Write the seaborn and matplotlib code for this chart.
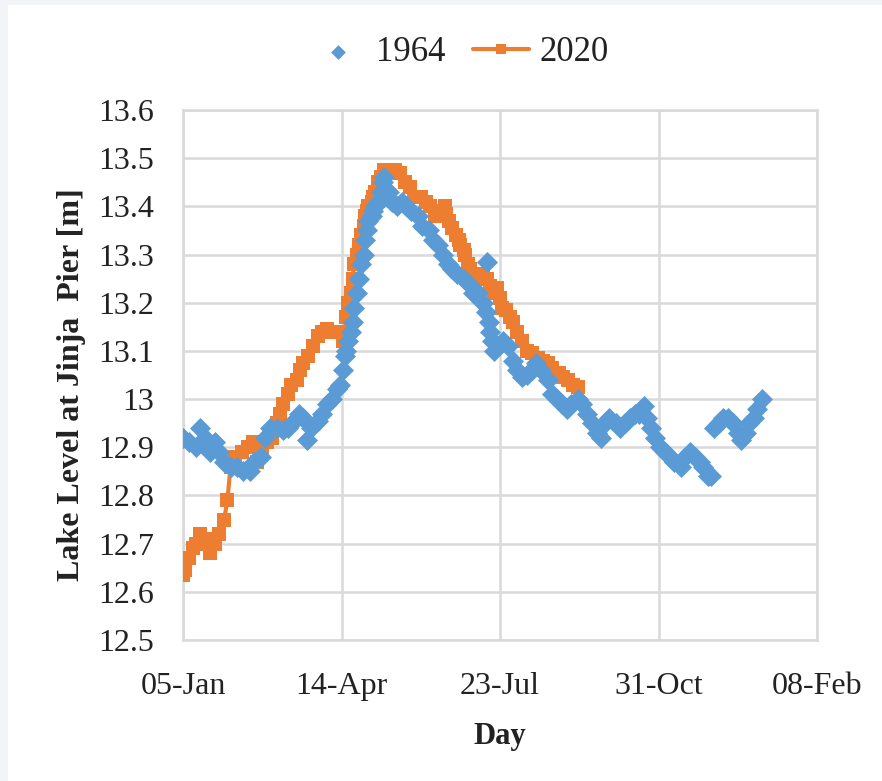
import matplotlib
matplotlib.use("Agg")
import matplotlib.pyplot as plt
import matplotlib.patches as mpatches
import seaborn as sns
import pandas as pd

# ---- data (day offset from 05-Jan) ----
days_1964 = [0, 4, 8, 11, 14, 17, 20, 23, 26, 30, 34, 38, 42, 45, 49, 52, 55, 59, 63, 66,
             69, 73, 76, 78, 81, 85, 88, 91, 94, 97, 99, 101, 102, 103, 104, 106, 107, 108,
             110, 111, 112, 114, 115, 116, 117, 119, 120, 121, 123, 125, 126, 127, 130, 132,
             135, 138, 141, 144, 148, 151, 155, 158, 161, 164, 167, 170, 173, 177, 180, 183,
             186, 189, 191, 192, 193, 194, 195, 196, 199, 202, 205, 208, 211, 214, 217, 220,
             223, 226, 230, 233, 236, 239, 242, 245, 249, 252, 255, 258, 261, 264, 266, 269,
             273, 276, 279, 282, 285, 288, 291, 293, 295, 298, 301, 304, 307, 310, 314, 317,
             320, 323, 326, 328, 331, 333, 335, 338, 341, 344, 347, 350, 352, 355, 357, 360,
             362, 365]
level_1964 = [12.92, 12.91, 12.90, 12.94, 12.92, 12.89, 12.91, 12.89, 12.87, 12.86, 12.86,
              12.85, 12.85, 12.87, 12.88, 12.92, 12.94, 12.94, 12.935, 12.94, 12.95, 12.97,
              12.96, 12.915, 12.94, 12.955, 12.97, 12.99, 13.00, 13.02, 13.03, 13.06, 13.09,
              13.10, 13.12, 13.14, 13.16, 13.19, 13.22, 13.25, 13.28, 13.30, 13.33, 13.35,
              13.37, 13.38, 13.39, 13.40, 13.41, 13.43, 13.45, 13.46, 13.43, 13.41, 13.40,
              13.41, 13.40, 13.39, 13.38, 13.36, 13.35, 13.33, 13.32, 13.30, 13.28, 13.27,
              13.26, 13.25, 13.24, 13.22, 13.22, 13.20, 13.18, 13.285, 13.16, 13.14, 13.12,
              13.10, 13.11, 13.12, 13.11, 13.08, 13.06, 13.045, 13.05, 13.06, 13.075, 13.06,
              13.04, 13.01, 13.00, 12.99, 12.98, 12.99, 13.00, 12.99, 12.97, 12.95, 12.93,
              12.92, 12.95, 12.96, 12.95, 12.94, 12.95, 12.96, 12.97, 12.97, 12.985, 12.96,
              12.94, 12.92, 12.90, 12.89, 12.88, 12.87, 12.86, 12.88, 12.89, 12.88, 12.87,
              12.86, 12.84, 12.84, 12.94, 12.95, 12.96, 12.96, 12.95, 12.93, 12.915, 12.93,
              12.95, 12.96, 12.98, 13.00]

days_2020 = [0, 1, 4, 6, 8, 11, 14, 17, 20, 23, 26, 28, 30, 33, 37, 41, 44, 47, 50, 53,
             56, 59, 61, 63, 66, 68, 72, 74, 76, 79, 82, 85, 88, 91, 95, 98, 101, 102, 103,
             104, 106, 107, 108, 110, 111, 112, 114, 115, 116, 117, 119, 120, 121, 123, 125,
             127, 131, 134, 137, 140, 143, 146, 150, 153, 156, 159, 162, 165, 166, 168, 170,
             172, 174, 175, 177, 178, 180, 181, 183, 184, 186, 189, 192, 194, 196, 198, 200,
             201, 204, 206, 208, 211, 214, 217, 220, 224, 227, 230, 233, 237, 240, 243, 246,
             249]
level_2020 = [12.635, 12.645, 12.67, 12.69, 12.70, 12.72, 12.71, 12.68, 12.70, 12.72, 12.75,
              12.79, 12.86, 12.88, 12.89, 12.90, 12.91, 12.87, 12.89, 12.91, 12.92, 12.95,
              12.97, 12.99, 13.01, 13.03, 13.04, 13.06, 13.075, 13.09, 13.11, 13.13, 13.14,
              13.145, 13.14, 13.14, 13.12, 13.14, 13.17, 13.20, 13.22, 13.25, 13.28, 13.30,
              13.32, 13.34, 13.36, 13.38, 13.39, 13.40, 13.41, 13.42, 13.43, 13.45, 13.46,
              13.475, 13.475, 13.475, 13.47, 13.45, 13.44, 13.42, 13.42, 13.41, 13.40, 13.38,
              13.39, 13.40, 13.385, 13.37, 13.355, 13.34, 13.33, 13.32, 13.31, 13.30, 13.28,
              13.27, 13.25, 13.23, 13.25, 13.26, 13.25, 13.235, 13.22, 13.23, 13.21, 13.19,
              13.185, 13.17, 13.16, 13.14, 13.12, 13.10, 13.095, 13.085, 13.08, 13.075,
              13.065, 13.055, 13.045, 13.04, 13.03, 13.025]

x_ticks = [0, 100, 200, 300, 400]
x_tick_labels = ["05-Jan", "14-Apr", "23-Jul", "31-Oct", "08-Feb"]
y_ticks = [12.5, 12.6, 12.7, 12.8, 12.9, 13.0, 13.1, 13.2, 13.3, 13.4, 13.5, 13.6]
y_tick_labels = ["12.5", "12.6", "12.7", "12.8", "12.9", "13", "13.1", "13.2", "13.3",
                 "13.4", "13.5", "13.6"]

BLUE = "#5B9BD5"
ORANGE = "#ED7D31"

sns.set_theme(style="white")
plt.rcParams["font.family"] = ["Liberation Serif", "DejaVu Serif"]

df64 = pd.DataFrame({"day": days_1964, "level": level_1964})
df20 = pd.DataFrame({"day": days_2020, "level": level_2020})

fig = plt.figure(figsize=(8.82, 7.81), dpi=100)
fig.patch.set_facecolor("#f2f4f8")
fig.patches.append(mpatches.Rectangle((8 / 882, 0), 1 - 8 / 882, 1 - 5 / 781,
                                      transform=fig.transFigure, facecolor="white",
                                      edgecolor="none", zorder=-10))
ax = fig.add_axes([183 / 882, 1 - 640 / 781, (817 - 183) / 882, (640 - 110) / 781])
ax.set_zorder(1)
ax.set_facecolor("white")

sns.lineplot(data=df20, x="day", y="level", ax=ax, color=ORANGE, linewidth=3,
             marker="s", markersize=9.5, markeredgewidth=0, label="2020", zorder=3)
sns.scatterplot(data=df64, x="day", y="level", ax=ax, color=BLUE, marker="D", s=115,
                linewidth=0, label="1964", zorder=4)

ax.set_xlim(0, 400)
ax.set_ylim(12.5, 13.6)
ax.set_xticks(x_ticks)
ax.set_xticklabels(x_tick_labels)
ax.set_yticks(y_ticks)
ax.set_yticklabels(y_tick_labels)
ax.tick_params(axis="both", length=0, labelsize=23, colors="#222222")
ax.tick_params(axis="y", pad=21)
ax.tick_params(axis="x", pad=23)
ax.grid(True, color="#d9d9d9", linewidth=1.8)
ax.set_axisbelow(True)
for s in ax.spines.values():
    s.set_color("#d9d9d9")
    s.set_linewidth(1.8)

ax.set_xlabel("Day", fontsize=22, fontweight="bold", color="#222222")
ax.xaxis.set_label_coords(0.5, -(722 - 640) / 530)
ax.set_ylabel("Lake Level at Jinja  Pier [m]", fontsize=23, fontweight="bold",
              color="#222222")
ax.yaxis.set_label_coords(-(183 - 86) / 634, 1 - (385 - 110) / 530)

h, l = ax.get_legend_handles_labels()
order = [l.index("1964"), l.index("2020")]
leg = ax.legend([h[i] for i in order], [l[i] for i in order], loc="center",
                bbox_to_anchor=(0.436, 1 + 57 / 530), ncol=2, frameon=False, fontsize=25,
                handlelength=1.6, columnspacing=0.8, handletextpad=0.3, markerscale=0.7)
for t in leg.get_texts():
    t.set_color("#222222")

fig.savefig("out.png", dpi=100, facecolor=fig.get_facecolor())
